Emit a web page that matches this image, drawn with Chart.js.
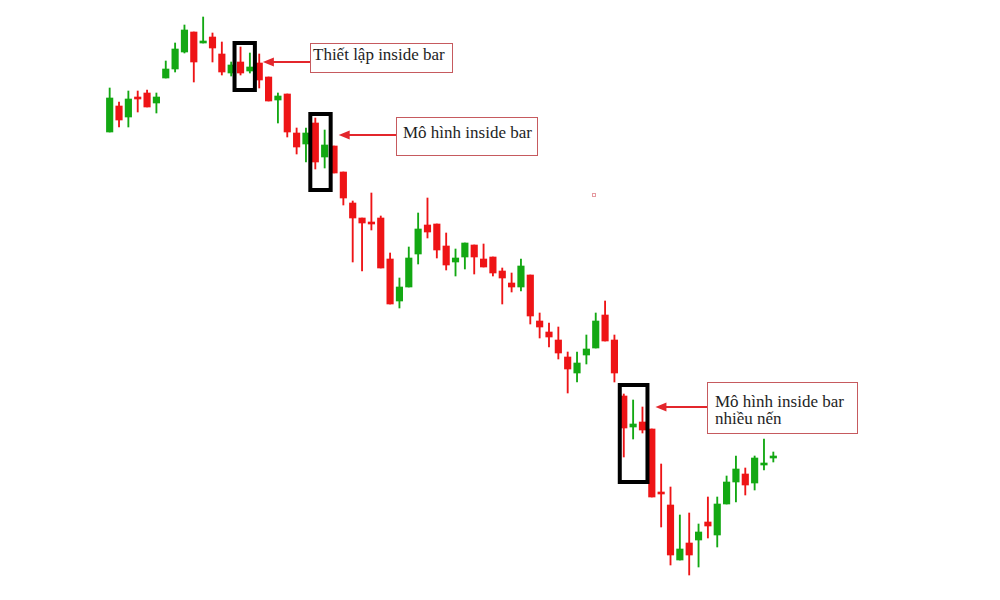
<!DOCTYPE html>
<html>
<head>
<meta charset="utf-8">
<script src="https://cdn.jsdelivr.net/npm/chart.js@4.4.1/dist/chart.umd.min.js"></script>
<style>
    body { margin: 0; background: #fff; }
    #wrap { position: relative; width: 1000px; height: 600px; }
    .note {
        position: absolute;
        box-sizing: border-box;
        border: 1px solid #c65a5e;
        background: #fff;
        font-family: "Liberation Serif", "Times New Roman", serif;
        font-size: 17px;
        color: #1e1e1e;
        white-space: nowrap;
    }
</style>
</head>
<body>
<div id="wrap">
    <canvas id="chart" width="1000" height="600"></canvas>
</div>
<script>
// Candle values (price units)
const opens  = [468, 494, 483, 503, 507, 497, 522, 531, 548, 568, 557, 563, 546, 527, 538, 529, 537, 523, 500, 506,
                467, 456, 477, 443, 454, 428, 397, 382, 378, 382, 341, 299, 313, 346, 375, 376, 354, 338, 343, 355,
                341, 343, 329, 317, 313, 325, 279, 268, 260, 243, 227, 245, 252, 285, 260, 204, 173, 178, 171, 108,
                95, 40, 57, 60, 78, 65, 96, 118, 126, 117, 135, 142];
const highs  = [512, 498, 509, 509, 510, 507, 539, 557, 575, 568, 583, 567, 558, 538, 553, 547, 546, 523, 507, 506,
                472, 472, 482, 470, 454, 428, 399, 382, 407, 384, 347, 322, 353, 387, 402, 376, 367, 351, 357, 355,
                356, 343, 332, 327, 341, 325, 287, 277, 273, 248, 248, 265, 287, 299, 265, 206, 200, 193, 171, 136,
                113, 85, 87, 76, 103, 103, 124, 144, 132, 144, 161, 148];
const lows   = [468, 473, 473, 488, 493, 487, 522, 528, 547, 518, 557, 538, 525, 524, 525, 527, 512, 499, 477, 463,
                446, 438, 431, 432, 427, 395, 338, 329, 370, 332, 296, 292, 313, 336, 362, 342, 330, 324, 331, 326,
                333, 324, 296, 308, 309, 276, 262, 253, 241, 207, 218, 236, 252, 259, 218, 143, 161, 167, 103, 73,
                35, 40, 25, 33, 62, 53, 96, 98, 105, 110, 130, 138];
const closes = [502, 480, 501, 501, 493, 503, 531, 551, 570, 538, 559, 552, 528, 535, 527, 533, 520, 499, 504, 468,
                453, 467, 438, 455, 427, 402, 382, 377, 376, 332, 296, 313, 342, 371, 368, 350, 335, 342, 357, 343,
                333, 327, 322, 313, 334, 284, 273, 263, 247, 231, 237, 251, 279, 259, 227, 172, 176, 170, 103, 106,
                45, 51, 45, 68, 74, 96, 118, 131, 115, 142, 137, 144];

// Annotation texts and which candles they mark
const noteTexts = ['Thiết lập inside bar', 'Mô hình inside bar', 'Mô hình inside bar<br>nhiều nến'];
const noteFirst = [14, 22, 55];
const noteLast  = [15, 23, 57];

const UP = '#13a813';
const DOWN = '#ee1416';

let labels = opens.map((o, i) => i + 1);
let colors = opens.map((o, i) => closes[i] >= o ? UP : DOWN);
let bodies = opens.map((o, i) => {
    let c = closes[i];
    // keep a thin body for dojis
    if (Math.abs(c - o) < 2) c = o + (c >= o ? 2 : -2);
    return [o, c];
});
let wicks = lows.map((l, i) => [l, highs[i]]);

// layout of the note boxes (pixels)
const boxes = [
    { top: 41, bottom: 92, padL: 8, padR: 7 },
    { top: 112, bottom: 192, padL: 7, padR: 8 },
    { top: 383, bottom: 484, padL: 6, padR: 7 }
];
const notes = [
    { left: 310, top: 43, width: 143, height: 30, padTop: 1, padLeft: 2, lh: 20 },
    { left: 396, top: 117, width: 142, height: 39, padTop: 5, padLeft: 6, lh: 20 },
    { left: 707, top: 382, width: 151, height: 52, padTop: 10, padLeft: 7, lh: 17 }
];
const arrowY = [62, 135, 407];

function drawArrow(ctx, x1, x2, y) {
    ctx.save();
    ctx.strokeStyle = '#e3262c';
    ctx.fillStyle = '#e3262c';
    ctx.lineWidth = 2;
    ctx.beginPath();
    ctx.moveTo(x1, y);
    ctx.lineTo(x2 + 9, y);
    ctx.stroke();
    ctx.beginPath();
    ctx.moveTo(x2, y);
    ctx.lineTo(x2 + 11, y - 4.5);
    ctx.lineTo(x2 + 11, y + 4.5);
    ctx.closePath();
    ctx.fill();
    ctx.restore();
}

const notePlugin = {
    id: 'notes',
    afterDraw(chart) {
        let ctx = chart.ctx;
        let xs = chart.scales.x;
        ctx.save();
        ctx.strokeStyle = '#000';
        ctx.lineWidth = 4;
        boxes.forEach((b, i) => {
            let left = xs.getPixelForValue(noteFirst[i]) - b.padL;
            let right = xs.getPixelForValue(noteLast[i]) + b.padR;
            ctx.strokeRect(left + 2, b.top + 2, right - left - 4, b.bottom - b.top - 4);
            drawArrow(ctx, notes[i].left, right + 6, arrowY[i]);
        });
        // small stray mark
        ctx.strokeStyle = '#e59aa0';
        ctx.lineWidth = 1;
        ctx.strokeRect(592.5, 193.5, 3, 3);
        ctx.restore();
    }
};

let wrap = document.getElementById('wrap');
notes.forEach((n, i) => {
    let div = document.createElement('div');
    div.className = 'note';
    div.style.left = n.left + 'px';
    div.style.top = n.top + 'px';
    div.style.width = n.width + 'px';
    div.style.height = n.height + 'px';
    div.style.paddingTop = n.padTop + 'px';
    div.style.paddingLeft = n.padLeft + 'px';
    div.style.lineHeight = n.lh + 'px';
    div.innerHTML = noteTexts[i];
    wrap.appendChild(div);
});

let ctx = document.getElementById('chart').getContext('2d');
new Chart(ctx, {
    type: 'bar',
    data: {
        labels: labels,
        datasets: [
            {
                label: 'Body',
                data: bodies,
                backgroundColor: colors,
                borderWidth: 0,
                barThickness: 6.5,
                grouped: false
            },
            {
                label: 'Wick',
                data: wicks,
                backgroundColor: colors,
                borderWidth: 0,
                barThickness: 1.2,
                grouped: false
            }
        ]
    },
    options: {
        responsive: false,
        animation: false,
        devicePixelRatio: 1,
        layout: { padding: { left: 105, right: 222, top: 0, bottom: 0 } },
        plugins: { legend: { display: false }, tooltip: { enabled: false } },
        scales: {
            x: { display: false },
            y: { display: false, min: 0, max: 600 }
        }
    },
    plugins: [notePlugin]
});
</script>
</body>
</html>
